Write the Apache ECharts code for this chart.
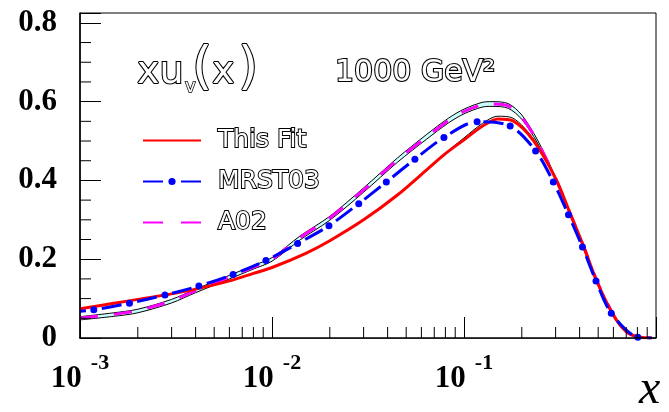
<!DOCTYPE html>
<html><head><meta charset="utf-8">
<script src="https://cdn.jsdelivr.net/npm/echarts@6/dist/echarts.min.js"></script>
<style>html,body{margin:0;padding:0;background:#fff}#c{width:669px;height:412px}</style>
</head><body><div id="c"></div>
<script>
// ---- data ----
const fitX = [0.001, 0.0015, 0.002, 0.003, 0.004, 0.006, 0.008, 0.01, 0.015, 0.02, 0.03, 0.045, 0.065, 0.08, 0.1, 0.125, 0.15, 0.18, 0.23, 0.3, 0.36, 0.42, 0.49, 0.6, 0.7, 0.8, 0.9, 0.95];
const fitY = [0.074, 0.088, 0.098, 0.112, 0.124, 0.145, 0.164, 0.179, 0.215, 0.247, 0.300, 0.363, 0.430, 0.468, 0.503, 0.538, 0.556, 0.551, 0.501, 0.405, 0.312, 0.232, 0.146, 0.058, 0.016, 0.003, 0.0005, 0];

const fitBandX = [0.07, 0.085, 0.1, 0.125, 0.15, 0.18, 0.23, 0.3];
const fitBandY = [0.443, 0.480, 0.508, 0.545, 0.563, 0.558, 0.505, 0.407];

const mrstX = [0.001, 0.00118, 0.00181, 0.00277, 0.00416, 0.00627, 0.0093, 0.0136, 0.0198, 0.0283, 0.0394, 0.0555, 0.0786, 0.117, 0.174, 0.236, 0.292, 0.35, 0.414, 0.487, 0.585, 0.804, 0.95];
const mrstY = [0.068, 0.0717, 0.0885, 0.109, 0.132, 0.1615, 0.197, 0.2396, 0.285, 0.341, 0.396, 0.454, 0.509, 0.549, 0.538, 0.475, 0.396, 0.313, 0.231, 0.1445, 0.063, 0.002, 0];

const a02X = [0.001, 0.0015, 0.002, 0.003, 0.004, 0.006, 0.008, 0.01, 0.014, 0.02, 0.03, 0.045, 0.064, 0.083, 0.1, 0.124, 0.14, 0.17, 0.2, 0.24, 0.3, 0.36, 0.42, 0.49, 0.6, 0.7, 0.8, 0.95];
const a02Y = [0.051, 0.060, 0.070, 0.094, 0.120, 0.155, 0.180, 0.200, 0.255, 0.305, 0.376, 0.452, 0.511, 0.552, 0.575, 0.592, 0.594, 0.589, 0.560, 0.500, 0.405, 0.312, 0.232, 0.147, 0.059, 0.016, 0.003, 0];
const a02Low = [0.046, 0.055, 0.064, 0.089, 0.115, 0.150, 0.175, 0.195, 0.249, 0.299, 0.370, 0.446, 0.505, 0.546, 0.569, 0.586, 0.588, 0.583, 0.555, 0.497, 0.403, 0.310, 0.230, 0.145, 0.058, 0.015, 0.003, 0];
const a02High = [0.054, 0.064, 0.073, 0.098, 0.124, 0.159, 0.184, 0.204, 0.259, 0.309, 0.381, 0.457, 0.517, 0.558, 0.581, 0.598, 0.600, 0.595, 0.566, 0.505, 0.408, 0.314, 0.234, 0.148, 0.060, 0.016, 0.003, 0];

const xMinorTicks = [0.002,0.003,0.004,0.005,0.006,0.007,0.008,0.009,0.02,0.03,0.04,0.05,0.06,0.07,0.08,0.09,0.2,0.3,0.4,0.5,0.6,0.7,0.8,0.9];
const yMinorTicks = [0.05,0.1,0.15,0.25,0.3,0.35,0.45,0.5,0.55,0.65,0.7,0.75];
const yTickLabels = {0:'0', 0.2:'0.2', 0.4:'0.4', 0.6:'0.6', 0.8:'0.8'};
const legendNames = ['This Fit', 'MRST03', 'A02'];

// ---- chart ----
const chart = echarts.init(document.getElementById('c'));
const zip = (xs, ys) => xs.map((x, i) => [x, ys[i]]);
const mrstData = mrstX.map((x, i) => {
  const item = { value: [x, mrstY[i]] };
  if (i === 0 || i === mrstX.length - 1) item.symbol = 'none';
  return item;
});

const serifBold = '"Liberation Serif", "Times New Roman", serif';
const sans = '"DejaVu Sans", sans-serif';
const hollow = { fill: '#fff', stroke: '#000', lineWidth: 2.2 };

chart.setOption({
  animation: false,
  backgroundColor: '#fff',
  grid: { left: 80, right: 13, top: 13, bottom: 74, show: true, borderColor: '#000', borderWidth: 1, backgroundColor: 'transparent' },
  legend: {
    data: [
      { name: legendNames[0], itemStyle: { opacity: 0 } },
      { name: legendNames[1], lineStyle: { type: [20, 18], dashOffset: 0 } },
      { name: legendNames[2], itemStyle: { opacity: 0 }, lineStyle: { type: [20, 18], dashOffset: 0 } }
    ],
    orient: 'vertical', left: 137, top: 122,
    itemWidth: 58, itemHeight: 9, itemGap: 14,
    selectedMode: false,
    textStyle: { fontFamily: sans, fontSize: 25, color: '#fff', textBorderColor: '#000', textBorderWidth: 2, padding: [0, 0, 0, 12] }
  },
  xAxis: {
    type: 'log', logBase: 10, min: 0.001, max: 1, z: 10,
    axisLine: { lineStyle: { color: '#000', width: 1.5 } },
    axisTick: { inside: true, length: 21, lineStyle: { color: '#000', width: 1 } },
    splitLine: { show: false },
    axisLabel: {
      margin: 14,
      formatter: v => { const e = Math.round(Math.log10(v)); return e >= 0 ? '' : '{b|10}{s|' + e + '}'; },
      rich: {
        b: { fontFamily: serifBold, fontWeight: 'bold', fontSize: 31, color: '#000', lineHeight: 42, verticalAlign: 'bottom' },
        s: { fontFamily: serifBold, fontWeight: 'bold', fontSize: 22, color: '#000', verticalAlign: 'top', padding: [0, 0, 0, 9] }
      }
    }
  },
  yAxis: {
    type: 'value', min: 0, max: 0.825, interval: 0.2, z: 10,
    axisLine: { show: true, lineStyle: { color: '#000', width: 1.5 } },
    axisTick: { inside: true, length: 21, lineStyle: { color: '#000', width: 1 } },
    splitLine: { show: false },
    axisLabel: {
      margin: 23, color: '#000', fontFamily: serifBold, fontWeight: 'bold', fontSize: 31,
      formatter: v => { const k = Math.round(v * 5) / 5; return Math.abs(v - k) < 1e-6 ? (yTickLabels[k] ?? '') : ''; }
    }
  },
  series: [
    { name: 'bandHigh', type: 'line', data: zip(a02X, a02High), smooth: 0.3, symbol: 'none', lineStyle: { color: '#000', width: 1 }, areaStyle: { color: '#c8ffff', opacity: 1 }, z: 1, silent: true },
    { name: 'bandLow', type: 'line', data: zip(a02X, a02Low), smooth: 0.3, symbol: 'none', lineStyle: { color: '#000', width: 1 }, areaStyle: { color: '#ffffff', opacity: 1 }, z: 1.5, silent: true },
    { name: 'A02', type: 'line', data: zip(a02X, a02Y), smooth: 0.3, symbol: 'none', lineStyle: { color: '#ff00ff', width: 3, type: [18, 16] }, itemStyle: { color: '#ff00ff' }, z: 3 },
    { name: 'fitBand', type: 'line', data: zip(fitBandX, fitBandY), smooth: 0.3, symbol: 'none', lineStyle: { color: '#000', width: 1 }, z: 3, silent: true },
    { name: 'This Fit', type: 'line', data: zip(fitX, fitY), smooth: 0.3, symbol: 'none', lineStyle: { color: '#ff0000', width: 3 }, itemStyle: { color: '#ff0000' }, z: 4 },
    { name: 'MRST03', type: 'line', data: mrstData, smooth: 0.3, symbol: 'circle', symbolSize: 7, showSymbol: true, showAllSymbol: true,
      lineStyle: { color: '#0000ff', width: 3, type: [20, 16], dashOffset: 14 }, itemStyle: { color: '#0000ff', borderWidth: 0 }, z: 5 },
    { name: 'xMinor', type: 'custom', data: xMinorTicks.map(v => [v, 0]), silent: true, z: 10, clip: false,
      renderItem: (p, api) => { const pt = api.coord([api.value(0), 0]); return { type: 'line', shape: { x1: pt[0], y1: pt[1], x2: pt[0], y2: pt[1] - 11 }, style: { stroke: '#000', lineWidth: 1 } }; } },
    { name: 'yMinor', type: 'custom', data: yMinorTicks.map(v => [0.001, v]), silent: true, z: 10, clip: false,
      renderItem: (p, api) => { const pt = api.coord([0.001, api.value(1)]); return { type: 'line', shape: { x1: pt[0], y1: pt[1], x2: pt[0] + 11, y2: pt[1] }, style: { stroke: '#000', lineWidth: 1 } }; } }
  ],
  graphic: [
    { type: 'text', x: 137, y: 73, style: Object.assign({ text: 'xu', font: '38px ' + sans, verticalAlign: 'middle' }, hollow) },
    { type: 'text', x: 185, y: 87, style: { text: 'v', font: '18px ' + sans, verticalAlign: 'middle', fill: '#fff', stroke: '#000', lineWidth: 1.5 } },
    { type: 'text', x: 192, y: 69, style: Object.assign({ text: '(', font: '52px ' + sans, verticalAlign: 'middle' }, hollow) },
    { type: 'text', x: 212, y: 73, style: Object.assign({ text: 'x', font: '38px ' + sans, verticalAlign: 'middle' }, hollow) },
    { type: 'text', x: 238, y: 69, style: Object.assign({ text: ')', font: '52px ' + sans, verticalAlign: 'middle' }, hollow) },
    { type: 'text', x: 335, y: 73, style: Object.assign({ text: '1000 GeV²', font: '30px ' + sans, verticalAlign: 'middle' }, hollow) },
    { type: 'text', x: 639, y: 390, style: { text: 'x', font: 'italic 48px "Liberation Serif", serif', fill: '#000', verticalAlign: 'middle' } }
  ]
});
</script></body></html>
